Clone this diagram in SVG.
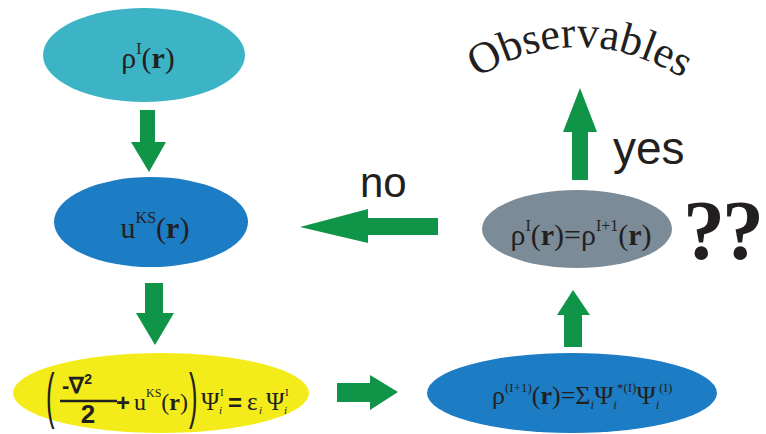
<svg xmlns="http://www.w3.org/2000/svg" width="766" height="434" viewBox="0 0 766 434">
<defs>
<style>
.m{font-family:"Liberation Serif","Times New Roman",serif;fill:#231f20}
.s{font-family:"Liberation Sans",Arial,sans-serif;fill:#231f20}
.b{font-weight:bold}
.arr{fill:#109447}
</style>
<path id="arc" d="M 468 84 Q 577 10 692 84"/>
</defs>
<rect width="766" height="434" fill="#ffffff"/>
<g id="connectors">
<polygon class="arr" points="140,110 155,110 155,142 166,142 149,172 131,142 140,142"/>
<polygon class="arr" points="145,283 163,283 163,313 174,313 155,345 136,313 145,313"/>
<polygon class="arr" points="337,383 370,383 370,375 398,392 370,410 370,402 337,402"/>
<polygon class="arr" points="564,347 582,347 582,315 590,315 573,290 557,315 564,315"/>
<polygon class="arr" points="438,218 438,235 368,235 368,243 300,227 368,209 368,218"/>
<polygon class="arr" points="572,180 588,180 588,132 597,132 580,88 563,132 572,132"/>
</g>
<g id="label-no"><text class="s" x="360" y="197" font-size="42">no</text></g>
<g id="label-yes"><text class="s" x="613" y="164" font-size="46">yes</text></g>
<g id="node-rho">
<ellipse cx="144" cy="55" rx="101" ry="47" fill="#3cb4c6"/>
<text class="m" x="148" y="68" font-size="30" text-anchor="middle">ρ<tspan font-size="16" dy="-14">I</tspan><tspan dy="14">(</tspan><tspan class="b">r</tspan>)</text>
</g>
<g id="node-uks">
<ellipse cx="151" cy="222" rx="97" ry="45" fill="#1c7cc4"/>
<text class="m" x="155" y="238" font-size="30" text-anchor="middle">u<tspan font-size="16" dy="-15">KS</tspan><tspan dy="15">(</tspan><tspan class="b">r</tspan>)</text>
</g>
<g id="node-ks">
<ellipse cx="161" cy="393" rx="148" ry="40" fill="#f4ec1a"/>
<text class="s" transform="translate(46,416) scale(0.8,1.9)" font-size="32">(</text>
<text class="s b" x="62" y="393" font-size="22">-∇<tspan font-size="14" dy="-9">2</tspan></text>
<line x1="60" y1="401" x2="117" y2="401" stroke="#231f20" stroke-width="2.5"/>
<text class="s b" x="88" y="423" font-size="26" text-anchor="middle">2</text>
<text class="s b" x="123" y="411" font-size="24" text-anchor="middle">+</text>
<text class="m" x="134" y="410" font-size="24">u<tspan font-size="12" dy="-13">KS</tspan><tspan dy="13">(</tspan><tspan class="b">r</tspan>)</text>
<text class="s" transform="translate(189,416) scale(0.8,1.9)" font-size="32">)</text>
<text class="m" x="201" y="410" font-size="25">Ψ</text>
<text class="m" x="220" y="396" font-size="11">I</text>
<text class="m" x="219" y="414" font-size="11" font-style="italic">i</text>
<text class="s b" x="235" y="411" font-size="24" text-anchor="middle">=</text>
<text class="m" x="247" y="410" font-size="25">ε</text>
<text class="m" x="259" y="414" font-size="11" font-style="italic">i</text>
<text class="m" x="266" y="410" font-size="25">Ψ</text>
<text class="m" x="285" y="396" font-size="11">I</text>
<text class="m" x="284" y="414" font-size="11" font-style="italic">i</text>
</g>
<g id="node-rho-new">
<ellipse cx="572" cy="393" rx="145" ry="40" fill="#1c7cc4"/>
<text class="m" x="492" y="404" font-size="26">ρ<tspan font-size="13" dy="-12">(I+1)</tspan><tspan dy="12">(</tspan><tspan class="b">r</tspan>)=Σ<tspan font-size="13" font-style="italic" dy="5">i</tspan><tspan dy="-5">Ψ</tspan><tspan font-size="13" font-style="italic" dy="5">i</tspan><tspan font-size="13" dy="-17">*(I)</tspan><tspan dy="12">Ψ</tspan><tspan font-size="13" font-style="italic" dy="5">i</tspan><tspan font-size="13" dy="-17">(I)</tspan></text>
</g>
<g id="node-check">
<ellipse cx="577" cy="229" rx="95" ry="39" fill="#7b8b97"/>
<text class="m" x="581" y="245" font-size="30" text-anchor="middle">ρ<tspan font-size="16" dy="-14">I</tspan><tspan dy="14">(</tspan><tspan class="b">r</tspan>)=ρ<tspan font-size="16" dy="-14">I+1</tspan><tspan dy="14">(</tspan><tspan class="b">r</tspan>)</text>
</g>
<g id="label-qq"><text class="m b" x="683" y="259" font-size="84" letter-spacing="-3">??</text></g>
<g id="label-observables">
<text class="m" font-size="44"><textPath href="#arc" startOffset="50%" text-anchor="middle">Observables</textPath></text>
</g>
</svg>
